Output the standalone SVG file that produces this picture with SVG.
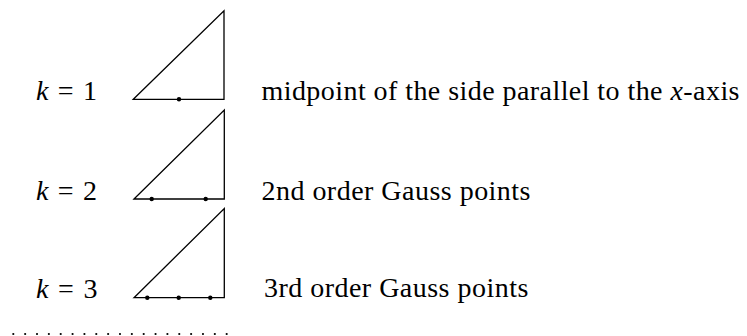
<svg xmlns="http://www.w3.org/2000/svg" width="747" height="336" viewBox="0 0 747 336">
<style>
  text { font-family: "Liberation Serif", "Times New Roman", serif; font-size: 28px; fill: #000; }
  .it { font-style: italic; }
  .tri { fill: none; stroke: #000; stroke-width: 1.3; stroke-linejoin: miter; }
  .pt { fill: #000; }
  .dots { stroke: #000; stroke-width: 2.2; stroke-linecap: round; stroke-dasharray: 0 11.855; fill: none; }
</style>
<rect width="747" height="336" fill="#fff"/>
<g id="row1">
  <text x="36" y="100" textLength="61" lengthAdjust="spacing"><tspan class="it">k</tspan> = 1</text>
  <polygon class="tri" points="133.3,99.3 224,10.7 224,99.3"/>
  <circle class="pt" cx="179" cy="99.3" r="2.2"/>
  <text x="261.5" y="99.5" textLength="478" lengthAdjust="spacing">midpoint of the side parallel to the <tspan class="it">x</tspan>-axis</text>
</g>
<g id="row2">
  <text x="36" y="200" textLength="61" lengthAdjust="spacing"><tspan class="it">k</tspan> = 2</text>
  <polygon class="tri" points="134,199 224.3,110 224.3,199"/>
  <circle class="pt" cx="151.7" cy="199" r="2.2"/>
  <circle class="pt" cx="205.7" cy="199" r="2.2"/>
  <text x="261.5" y="200" textLength="269" lengthAdjust="spacing">2nd order Gauss points</text>
</g>
<g id="row3">
  <text x="36" y="298" textLength="61.5" lengthAdjust="spacing"><tspan class="it">k</tspan> = 3</text>
  <polygon class="tri" points="134,297.7 224.3,208.5 224.3,297.7"/>
  <circle class="pt" cx="147.3" cy="297.7" r="2.2"/>
  <circle class="pt" cx="178.7" cy="297.7" r="2.2"/>
  <circle class="pt" cx="210.3" cy="297.7" r="2.2"/>
  <text x="264" y="296.7" textLength="264.3" lengthAdjust="spacing">3rd order Gauss points</text>
</g>
<g id="connectors"></g>
<line class="dots" x1="13.3" y1="334" x2="227" y2="334"/>
</svg>
